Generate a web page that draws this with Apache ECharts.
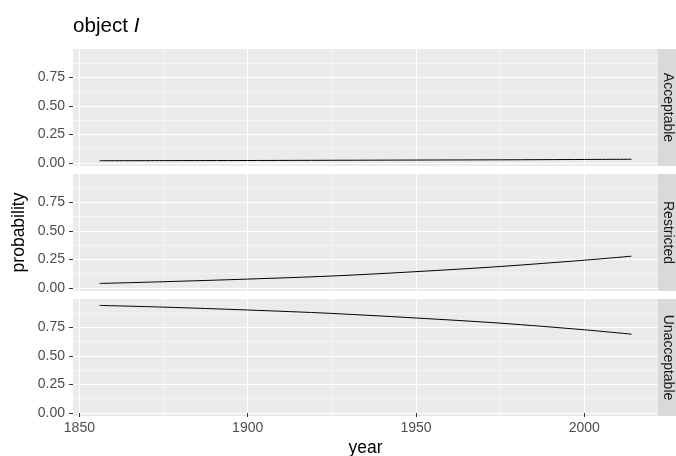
<!DOCTYPE html>
<html>
<head>
<meta charset="utf-8">
<script src="https://cdn.jsdelivr.net/npm/echarts@6/dist/echarts.min.js"></script>
<style>
  html, body { margin: 0; padding: 0; background: #ffffff; }
  #chart { width: 676px; height: 456px; }
</style>
</head>
<body>
<div id="chart"></div>
<script>
// Fitted probabilities per year for each response category
const years        = [1856, 1875, 1900, 1925, 1950, 1975, 2000, 2014];
const acceptable   = [0.020, 0.021, 0.022, 0.024, 0.026, 0.028, 0.031, 0.033];
const restricted   = [0.040, 0.055, 0.078, 0.105, 0.143, 0.188, 0.243, 0.278];
const unacceptable = [0.940, 0.925, 0.900, 0.870, 0.830, 0.785, 0.727, 0.689];

const facetNames  = ['Acceptable', 'Restricted', 'Unacceptable'];
const facetValues = [acceptable, restricted, unacceptable];

// Axis breaks
const yMajorTicks = [0, 0.25, 0.5, 0.75];
const yMinorTicks = [0.125, 0.375, 0.625, 0.875];
const xMajorTicks = [1850, 1900, 1950, 2000];
const xMinorTicks = [1875, 1925, 1975];

// Panel layout
const PANEL_LEFT = 73;
const PANEL_W = 585;
const PANEL_H = 117;
const PANEL_GAP = 8;
const PANEL_TOP0 = 49;
const STRIP_W = 30;
const X_MIN = 1848.1, X_MAX = 2021.9;
const Y_MIN = -0.026, Y_MAX = 0.996;

const FONT = 'Liberation Sans, Arial, Helvetica, sans-serif';
const TICK_FS = 14;
const STRIP_FS = 14;
const TITLE_FS = 17.5;

const grids = [], xAxes = [], yAxes = [], series = [], graphics = [];

facetNames.forEach((name, i) => {
  const top = PANEL_TOP0 + i * (PANEL_H + PANEL_GAP);
  const isBottom = i === facetNames.length - 1;
  grids.push({
    left: PANEL_LEFT, top: top, width: PANEL_W, height: PANEL_H,
    show: true, backgroundColor: '#ebebeb', borderWidth: 0, containLabel: false
  });

  // major x axis
  xAxes.push({
    type: 'value', gridIndex: i, min: X_MIN, max: X_MAX,
    axisLine: { show: false },
    axisTick: { show: isBottom, customValues: xMajorTicks, length: 4,
                lineStyle: { color: '#333333', width: 1 } },
    axisLabel: { show: isBottom, customValues: xMajorTicks, margin: 5,
                 color: '#4d4d4d', fontSize: TICK_FS, fontFamily: FONT,
                 formatter: v => String(v) },
    splitLine: { show: true, lineStyle: { color: '#ffffff', width: 1.07 } }
  });
  // minor x gridlines
  xAxes.push({
    type: 'value', gridIndex: i, min: X_MIN, max: X_MAX,
    axisLine: { show: false },
    axisTick: { show: false, customValues: xMinorTicks },
    axisLabel: { show: false, customValues: xMinorTicks },
    splitLine: { show: true, lineStyle: { color: '#ffffff', width: 0.53 } }
  });
  // major y axis
  yAxes.push({
    type: 'value', gridIndex: i, min: Y_MIN, max: Y_MAX,
    axisLine: { show: false },
    axisTick: { show: true, customValues: yMajorTicks, length: 4,
                lineStyle: { color: '#333333', width: 1 } },
    axisLabel: { show: true, customValues: yMajorTicks, margin: 8,
                 color: '#4d4d4d', fontSize: TICK_FS, fontFamily: FONT,
                 formatter: v => v.toFixed(2) },
    splitLine: { show: true, lineStyle: { color: '#ffffff', width: 1.07 } }
  });
  // minor y gridlines
  yAxes.push({
    type: 'value', gridIndex: i, min: Y_MIN, max: Y_MAX,
    axisLine: { show: false },
    axisTick: { show: false, customValues: yMinorTicks },
    axisLabel: { show: false, customValues: yMinorTicks },
    splitLine: { show: true, lineStyle: { color: '#ffffff', width: 0.53 } }
  });

  series.push({
    type: 'line', name: name,
    xAxisIndex: 2 * i, yAxisIndex: 2 * i,
    data: years.map((y, k) => [y, facetValues[i][k]]),
    showSymbol: false, smooth: 0.3,
    lineStyle: { color: '#000000', width: 1 },
    silent: true, z: 5
  });

  // facet strip on the right (runs past the canvas edge)
  graphics.push({
    type: 'rect',
    shape: { x: PANEL_LEFT + PANEL_W, y: top, width: STRIP_W, height: PANEL_H },
    style: { fill: '#d9d9d9' }, silent: true
  });
  graphics.push({
    type: 'text',
    x: PANEL_LEFT + PANEL_W + 10, y: top + PANEL_H / 2,
    rotation: -Math.PI / 2,
    style: { text: name, fill: '#1a1a1a', font: STRIP_FS + 'px ' + FONT,
             textAlign: 'center', textVerticalAlign: 'middle' },
    silent: true
  });
});

const panelsBottom = PANEL_TOP0 + 3 * PANEL_H + 2 * PANEL_GAP;

// axis titles
graphics.push({
  type: 'text', x: 19, y: (PANEL_TOP0 + panelsBottom) / 2,
  rotation: Math.PI / 2,
  style: { text: 'probability', fill: '#000000', font: TITLE_FS + 'px ' + FONT,
           textAlign: 'center', textVerticalAlign: 'middle' },
  silent: true
});
graphics.push({
  type: 'text', x: PANEL_LEFT + PANEL_W / 2, y: 448,
  style: { text: 'year', fill: '#000000', font: TITLE_FS + 'px ' + FONT,
           textAlign: 'center', textVerticalAlign: 'middle' },
  silent: true
});

const chart = echarts.init(document.getElementById('chart'), null, { renderer: 'canvas' });
chart.setOption({
  animation: false,
  backgroundColor: '#ffffff',
  title: {
    text: '{n|object }{i|I}',
    left: PANEL_LEFT, top: 16, padding: 0,
    textStyle: {
      fontWeight: 'normal',
      rich: {
        n: { fontSize: 20.6, fontFamily: FONT, color: '#000000', fontWeight: 'normal' },
        i: { fontSize: 20.6, fontFamily: FONT, color: '#000000', fontWeight: 'normal',
             fontStyle: 'italic' }
      }
    }
  },
  grid: grids,
  xAxis: xAxes,
  yAxis: yAxes,
  series: series,
  graphic: { elements: graphics }
});
</script>
</body>
</html>
